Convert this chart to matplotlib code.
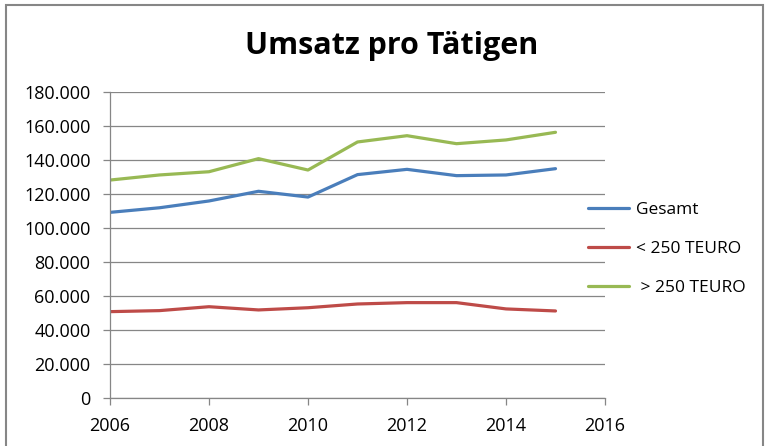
import matplotlib.pyplot as plt
from matplotlib.patches import Rectangle
from matplotlib.ticker import FuncFormatter

years = [2006, 2007, 2008, 2009, 2010, 2011, 2012, 2013, 2014, 2015]
gesamt = [109200, 111900, 115900, 121600, 118200, 131400, 134500, 130800, 131200, 134900]
unter_250 = [50800, 51400, 53700, 51800, 53100, 55300, 56100, 56100, 52400, 51200]
ueber_250 = [128200, 131200, 133100, 140800, 134100, 150600, 154300, 149600, 151800, 156300]

labels = ["Gesamt", "< 250 TEURO", " > 250 TEURO"]
colors = ["#4A7EBB", "#BE4B48", "#98B954"]

plt.rcParams['font.family'] = ['Open Sans', 'DejaVu Sans']

fig = plt.figure(figsize=(7.68, 4.46), dpi=100)
ax = fig.add_axes([110 / 768, 1 - 398 / 446, (605 - 110) / 768, (398 - 92) / 446])

# chart frame like Excel
fig.patches.append(Rectangle((6 / 768, -0.05), (763 - 6) / 768, 1 - 5 / 446 + 0.05,
                             transform=fig.transFigure, fill=False,
                             edgecolor="#868686", linewidth=1.5))

for vals, lab, col in zip([gesamt, unter_250, ueber_250], labels, colors):
    ax.plot(years, vals, color=col, linewidth=2.3, label=lab, solid_capstyle='round')

ax.set_xlim(2006, 2016)
ax.set_ylim(0, 180000)
ax.set_xticks(range(2006, 2017, 2))
ax.set_yticks(range(0, 180001, 20000))
ax.yaxis.set_major_formatter(FuncFormatter(lambda v, p: f"{int(v):,}".replace(",", ".")))

ax.grid(axis='y', color="#868686", linewidth=0.9)
ax.set_axisbelow(True)
for s in ['top', 'right']:
    ax.spines[s].set_visible(False)
for s in ['left', 'bottom']:
    ax.spines[s].set_color("#868686")
    ax.spines[s].set_linewidth(0.9)
ax.tick_params(colors="#868686", length=5, width=0.9, labelcolor="black", labelsize=13)
ax.tick_params(axis='x', pad=9)
ax.tick_params(axis='y', pad=9)

fig.text(392 / 768, 1 - 46 / 446, "Umsatz pro Tätigen", ha='center', va='center',
         fontsize=22, fontweight='bold')

ax.legend(loc='center left', bbox_to_anchor=(572 / 768, 1 - 249 / 446),
          bbox_transform=fig.transFigure, frameon=False, fontsize=12.5,
          handlelength=2.4, labelspacing=1.3, handletextpad=0.4)

fig.savefig("out.png", dpi=100)
